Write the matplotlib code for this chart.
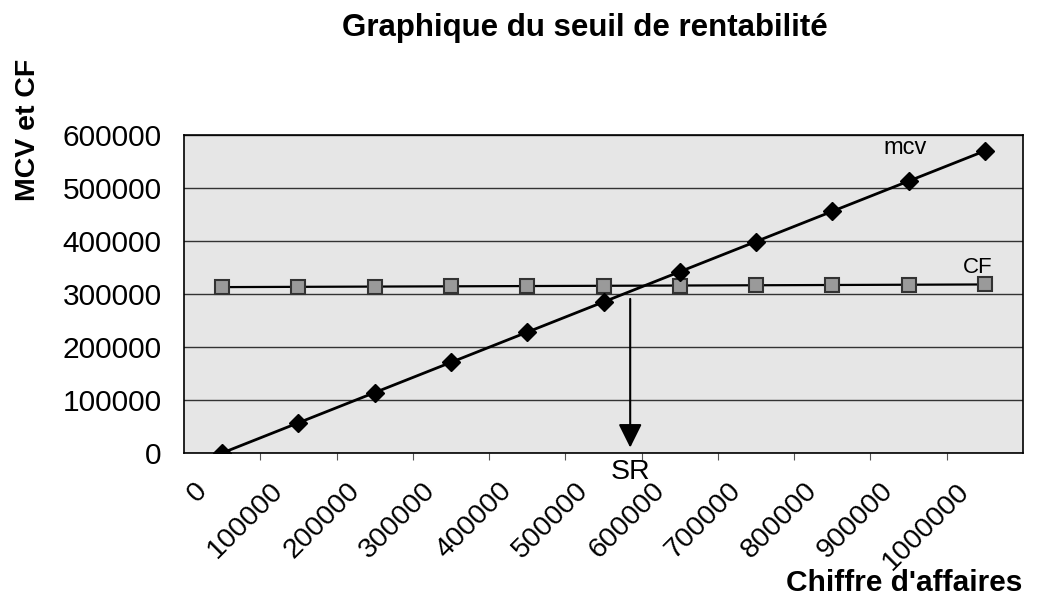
import matplotlib
matplotlib.use("Agg")
import matplotlib.pyplot as plt
import matplotlib.transforms as mtransforms

plt.rcParams['font.family'] = ['Liberation Sans', 'DejaVu Sans']

categories = ["0", "100000", "200000", "300000", "400000", "500000",
              "600000", "700000", "800000", "900000", "1000000"]
mcv = [0, 57000, 114000, 171000, 228000, 285000, 342000, 399000, 456000, 513000, 570000]
cf = [313000, 313500, 314000, 314500, 315000, 315500, 316000, 316500, 317000, 317500, 318000]
sr_position = 5.35  # break-even marker position (category index)

fig = plt.figure(figsize=(10.41, 6.02), dpi=100)
ax = fig.add_axes([184/1041, 1 - 453/602, (1023-184)/1041, (453-135)/602])
ax.set_facecolor('#e6e6e6')

x = list(range(len(categories)))
ax.plot(x, cf, color='black', lw=1.6, marker='s', markersize=10,
        markerfacecolor='#9a9a9a', markeredgecolor='#333333', markeredgewidth=1.5, zorder=3)
ax.plot(x, mcv, color='black', lw=2, marker='D', markersize=9,
        markerfacecolor='black', markeredgecolor='black', zorder=4)

ax.set_xlim(-0.5, len(categories) - 0.5)
ax.set_ylim(0, 600000)
ax.set_yticks(range(0, 600001, 100000))
ax.set_yticklabels([str(v) for v in range(0, 600001, 100000)], fontsize=21.5)
ax.yaxis.grid(True, color='#333333', lw=1)
ax.set_axisbelow(True)
ax.tick_params(axis='y', length=0, pad=16)

ax.set_xticks([i + 0.5 for i in range(len(categories) - 1)], minor=False)
ax.set_xticklabels([])
ax.tick_params(axis='x', which='major', length=5, direction='out', color='#555555')
ax.set_xticks(x, minor=True)
ax.set_xticklabels(categories, minor=True, rotation=45, ha='right', va='top',
                   fontsize=20.5)
ax.tick_params(axis='x', which='minor', length=0, pad=18)
offset = mtransforms.ScaledTranslation(-10/100, 0, fig.dpi_scale_trans)
for lbl in ax.xaxis.get_minorticklabels():
    lbl.set_transform(lbl.get_transform() + offset)

for s in ax.spines.values():
    s.set_color('black')
    s.set_linewidth(1.2)

ax.annotate('', xy=(sr_position, 5000), xytext=(sr_position, 296000),
            arrowprops=dict(arrowstyle='-|>,head_width=0.72,head_length=1.45',
                            color='black', lw=1.5), zorder=5)
ax.text(sr_position, -12000, 'SR', ha='center', va='top', fontsize=20.5)
ax.text(8.95, 575000, 'mcv', ha='center', va='center', fontsize=17)
ax.text(9.9, 350000, 'CF', ha='center', va='center', fontsize=16)

fig.text(585/1041, 1 - 28/602, 'Graphique du seuil de rentabilité', ha='center',
         va='center', fontsize=22.5, fontweight='bold')
fig.text(28/1041, 1 - 130/602, 'MCV et CF', rotation=90, ha='center', va='center',
         fontsize=20.5, fontweight='bold')
fig.text(1022/1041, 1 - 583/602, "Chiffre d'affaires", ha='right', va='center',
         fontsize=21.5, fontweight='bold')

fig.savefig('out.png', dpi=100, facecolor='white')
